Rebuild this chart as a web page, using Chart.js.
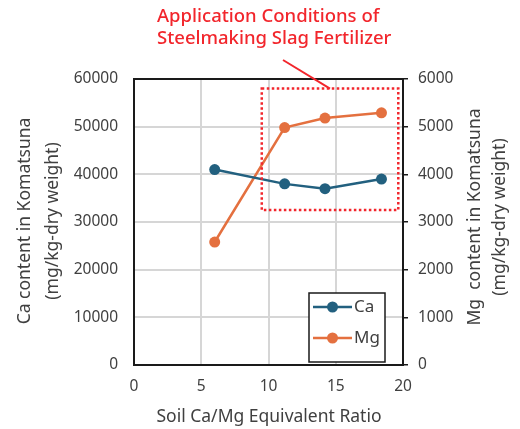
<!DOCTYPE html>
<html>
<head>
<meta charset="utf-8">
<script src="https://cdn.jsdelivr.net/npm/chart.js@4.4.1/dist/chart.umd.min.js"></script>
<style>
  html, body { margin: 0; padding: 0; background: #ffffff; }
  #wrap { width: 520px; height: 429px; position: relative; }
</style>
</head>
<body>
<div id="wrap"><canvas id="c" width="520" height="429"></canvas></div>
<script>
// Soil Ca/Mg equivalent ratio of each plot
const ratio = [6.0, 11.2, 14.2, 18.4];
// Ca content of Komatsuna (mg/kg-dry weight), left axis
const caValues = [41000, 38000, 37000, 39000];
// Mg content of Komatsuna (mg/kg-dry weight), right axis
const mgValues = [2580, 4980, 5180, 5290];
// Axis tick settings
const xTicks = { min: 0, max: 20, step: 5 };
const caTicks = { min: 0, max: 60000, step: 10000 };
const mgTicks = { min: 0, max: 6000, step: 1000 };
// Range covered by steelmaking slag fertilizer application (x: ratio, y: Ca axis units)
const slagRange = { x0: 9.5, x1: 19.65, y0: 32500, y1: 58000 };
const noteLines = ['Application Conditions of', 'Steelmaking Slag Fertilizer'];

const FONT = "'Noto Sans', 'Noto Sans CJK JP', sans-serif";
const TXT = '#404040';
const CA_COLOR = '#22607f';
const MG_COLOR = '#e4703f';
const NOTE_RED = '#f2262c';

const toPoints = (xs, ys) => xs.map((x, i) => ({ x: x, y: ys[i] }));
const plain = v => String(v);

const decorations = {
  id: 'decorations',
  beforeDatasetsDraw(chart) {
    const { ctx, chartArea: a } = chart;
    ctx.save();
    ctx.strokeStyle = '#1a1a1a';
    ctx.lineWidth = 2;
    ctx.strokeRect(a.left, a.top, a.right - a.left, a.bottom - a.top);
    ctx.restore();
  },
  afterDatasetsDraw(chart) {
    const { ctx } = chart;
    const xs = chart.scales.x, ys = chart.scales.y;
    // dotted frame around the slag fertilizer range
    const L = xs.getPixelForValue(slagRange.x0), R = xs.getPixelForValue(slagRange.x1);
    const T = ys.getPixelForValue(slagRange.y1), B = ys.getPixelForValue(slagRange.y0);
    ctx.save();
    ctx.strokeStyle = NOTE_RED;
    ctx.lineWidth = 2.5;
    ctx.setLineDash([2.5, 2.5]);
    ctx.strokeRect(L, T, R - L, B - T);
    ctx.setLineDash([]);
    // pointer from the note to the frame
    ctx.lineWidth = 2;
    ctx.beginPath();
    ctx.moveTo(283, 60);
    ctx.lineTo(330, T);
    ctx.stroke();
    // note text
    ctx.fillStyle = NOTE_RED;
    ctx.font = '500 18.5px ' + FONT;
    ctx.textAlign = 'left';
    ctx.textBaseline = 'middle';
    ctx.fillText(noteLines[0], 157, 17);
    ctx.fillText(noteLines[1], 157, 39);
    ctx.restore();

    // legend
    const lx = 309, ly = 293, lw = 76, lh = 69;
    ctx.save();
    ctx.fillStyle = '#ffffff';
    ctx.fillRect(lx, ly, lw, lh);
    ctx.strokeStyle = '#1a1a1a';
    ctx.lineWidth = 1.5;
    ctx.strokeRect(lx, ly, lw, lh);
    chart.data.datasets.forEach((ds, i) => {
      const yy = ly + 14 + i * 31;
      ctx.strokeStyle = ds.borderColor;
      ctx.lineWidth = 2.5;
      ctx.beginPath();
      ctx.moveTo(lx + 4, yy);
      ctx.lineTo(lx + 43, yy);
      ctx.stroke();
      ctx.fillStyle = ds.backgroundColor;
      ctx.beginPath();
      ctx.arc(lx + 23.5, yy, 5.5, 0, Math.PI * 2);
      ctx.fill();
      ctx.fillStyle = TXT;
      ctx.font = '17px ' + FONT;
      ctx.textAlign = 'left';
      ctx.textBaseline = 'middle';
      ctx.fillText(ds.label, lx + 45, yy);
    });
    ctx.restore();
  },
  afterDraw(chart) {
    const { ctx } = chart;
    ctx.save();
    ctx.fillStyle = TXT;
    ctx.font = '17.5px ' + FONT;
    ctx.textAlign = 'center';
    ctx.textBaseline = 'middle';
    // x axis title
    ctx.fillText('Soil Ca/Mg Equivalent Ratio', 269, 417);
    // left axis title
    ctx.save();
    ctx.translate(25, 221);
    ctx.rotate(-Math.PI / 2);
    ctx.fillText('Ca content in Komatsuna', 0, 0);
    ctx.fillText('(mg/kg-dry weight)', 0, 28);
    ctx.restore();
    // right axis title
    ctx.save();
    ctx.translate(475, 217);
    ctx.rotate(-Math.PI / 2);
    ctx.fillText('Mg  content in Komatsuna', 0, 0);
    ctx.fillText('(mg/kg-dry weight)', 0, 25);
    ctx.restore();
    ctx.restore();
  }
};

new Chart(document.getElementById('c'), {
  type: 'line',
  data: {
    datasets: [
      {
        label: 'Ca',
        data: toPoints(ratio, caValues),
        yAxisID: 'y',
        borderColor: CA_COLOR,
        backgroundColor: CA_COLOR,
        borderWidth: 2.5,
        pointRadius: 5.5,
        pointHoverRadius: 5.5,
        pointBorderWidth: 0,
        tension: 0
      },
      {
        label: 'Mg',
        data: toPoints(ratio, mgValues),
        yAxisID: 'y1',
        borderColor: MG_COLOR,
        backgroundColor: MG_COLOR,
        borderWidth: 2.5,
        pointRadius: 5.5,
        pointHoverRadius: 5.5,
        pointBorderWidth: 0,
        tension: 0
      }
    ]
  },
  options: {
    responsive: false,
    animation: false,
    events: [],
    layout: { padding: { top: 79, left: 0, right: 0, bottom: 0 } },
    plugins: { legend: { display: false }, tooltip: { enabled: false }, title: { display: false } },
    scales: {
      x: {
        type: 'linear',
        min: xTicks.min, max: xTicks.max,
        afterFit: s => { s.height = 64; },
        ticks: { stepSize: xTicks.step, callback: plain, color: TXT, font: { family: FONT, size: 15.5 }, padding: 12 },
        grid: { color: '#d6d6d6', lineWidth: 2, drawTicks: false },
        border: { display: false }
      },
      y: {
        position: 'left',
        min: caTicks.min, max: caTicks.max,
        afterFit: s => { s.width = 134; },
        ticks: { stepSize: caTicks.step, callback: plain, color: TXT, font: { family: FONT, size: 15.5 }, padding: 16 },
        grid: { color: '#d6d6d6', lineWidth: 2, drawTicks: false },
        border: { display: false }
      },
      y1: {
        position: 'right',
        min: mgTicks.min, max: mgTicks.max,
        afterFit: s => { s.width = 117; },
        ticks: { stepSize: mgTicks.step, callback: plain, color: TXT, font: { family: FONT, size: 15.5 }, padding: 10 },
        grid: { drawOnChartArea: false, drawTicks: true, tickLength: 5, tickColor: '#1a1a1a', lineWidth: 1.5 },
        border: { display: false }
      }
    }
  },
  plugins: [decorations]
});
</script>
</body>
</html>
